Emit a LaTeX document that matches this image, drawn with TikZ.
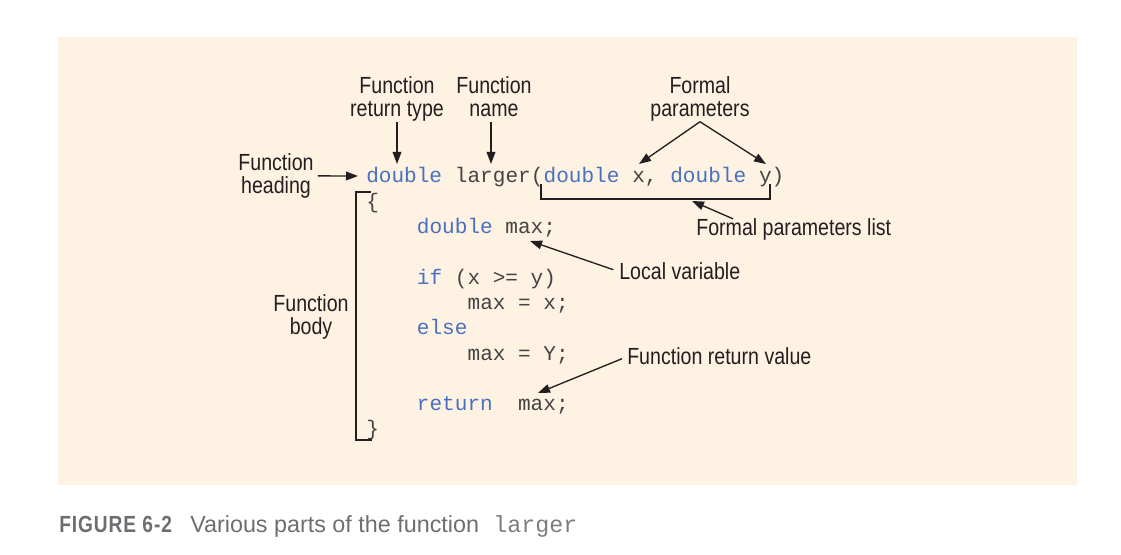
\documentclass[tikz,border=0pt]{standalone}
\usepackage{fontspec}
\usetikzlibrary{arrows.meta}
\newfontfamily\codefont{Liberation Mono}
\newfontfamily\labfont[FakeStretch=0.84]{Liberation Sans}
\newfontfamily\capfont{Liberation Sans}
\newfontfamily\figfont[FakeStretch=0.82,LetterSpace=4]{Liberation Sans Bold}
\definecolor{bgpeach}{RGB}{254,242,227}
\definecolor{kwblue}{RGB}{72,112,190}
\definecolor{codegray}{RGB}{68,68,68}
\definecolor{labink}{RGB}{35,31,32}
\definecolor{capgray}{RGB}{109,110,113}
\definecolor{capcode}{RGB}{125,125,125}
\begin{document}
\begin{tikzpicture}[x=0.75pt,y=-0.75pt,
  code/.style={font=\codefont\fontsize{15.8}{18}\selectfont, text=codegray, inner sep=0pt, anchor=base west},
  kw/.style={code, text=kwblue},
  lab/.style={font=\labfont\fontsize{17.5}{17.6}\selectfont, text=labink, inner sep=0pt, align=center},
  arr/.style={draw=labink, line width=1pt, -{Triangle[length=9pt,width=6.5pt]}},
  brk/.style={draw=labink, line width=1pt}]
\useasboundingbox (0,0) rectangle (1121,555);
\fill[bgpeach] (58,37) rectangle (1077,485);

% code
\node[kw]   (d1) at (366,183) {double};
\node[code] (lg) at ({366+7*12.67},183) {larger(};
\node[kw]   (d2) at ({366+14*12.67},183) {double};
\node[code] (px) at ({366+21*12.67},183) {x,};
\node[kw]   (d3) at ({366+24*12.67},183) {double};
\node[code] (py) at ({366+31*12.67},183) {y)};
\node[code] (ob) at (366,{183+1*25.3}) {\{};
\node[code] (l2) at ({366+4*12.67},{183+2*25.3}) {\textcolor{kwblue}{double} max;};
\node[code] (l4) at ({366+4*12.67},{183+4*25.3}) {\textcolor{kwblue}{if} (x >= y)};
\node[code] (l5) at ({366+8*12.67},{183+5*25.3}) {max = x;};
\node[kw]   (l6) at ({366+4*12.67},{183+6*25.3}) {else};
\node[code] (l7) at ({366+8*12.67},{183+7*25.3}) {max = Y;};
\node[code] (l9) at ({366+4*12.67},{183+9*25.3}) {\textcolor{kwblue}{return}\ \ max;};
\node[code] (cb) at (366,{183+10*25.3}) {\}};

% labels
\node[lab, anchor=north] (rt) at (397,76) {Function\\return type};
\node[lab, anchor=north] (nm) at (494,76) {Function\\name};
\node[lab, anchor=north] (fp) at (700,76) {Formal\\parameters};
\node[lab, anchor=north] (hd) at (276,153) {Function\\heading};
\node[lab, anchor=north] (bd) at (311,294) {Function\\body};
\node[lab, anchor=base west] (fpl) at (696,236) {Formal parameters list};
\node[lab, anchor=base west] (lv) at (619,280) {Local variable};
\node[lab, anchor=base west] (rv) at (627,365) {Function return value};

% arrow targets
\coordinate (rtT) at (397,164);
\coordinate (nmT) at (491,164);
\coordinate (fpL) at (639,164);
\coordinate (fpR) at (766,164);
\coordinate (hdT) at (358,176);
\coordinate (fplS) at (733,217);
\coordinate (fplT) at (692,201);
\coordinate (lvT) at (530,241);
\coordinate (rvT) at (538,393);

\draw[arr] (rt.south) -- (rtT);
\draw[arr, shorten <=4pt] (nm.south -| nmT) -- (nmT);
\draw[arr] (fp.south) -- (fpL);
\draw[arr] (fp.south) -- (fpR);
\draw[arr, shorten <=3pt] (hd.east) -- (hdT);
\draw[arr] (fpl.north -| fplS) -- (fplT);
\draw[arr, shorten <=4.5pt] (lv.west) -- (lvT);
\draw[arr, shorten <=4pt] (rv.west) -- (rvT);

% brackets
\draw[brk] (541,184) -- (541,199) -- (770,199) -- (770,184);
\draw[brk] (371,192) -- (356,192) -- (356,440) -- (372,440);

% caption
\node[anchor=base west, inner sep=0pt, font=\figfont\fontsize{17.5}{20}\selectfont, text=capgray] (fig) at (59,533) {FIGURE 6-2};
\node[anchor=base west, inner sep=0pt, font=\capfont\fontsize{17.5}{20}\selectfont, text=capgray] (cap) at (190,533) {Various parts of the function};
\node[anchor=base west, inner sep=0pt, font=\codefont\fontsize{17.5}{20}\selectfont, text=capcode] (capc) at (493,533) {larger};
\end{tikzpicture}
\end{document}
